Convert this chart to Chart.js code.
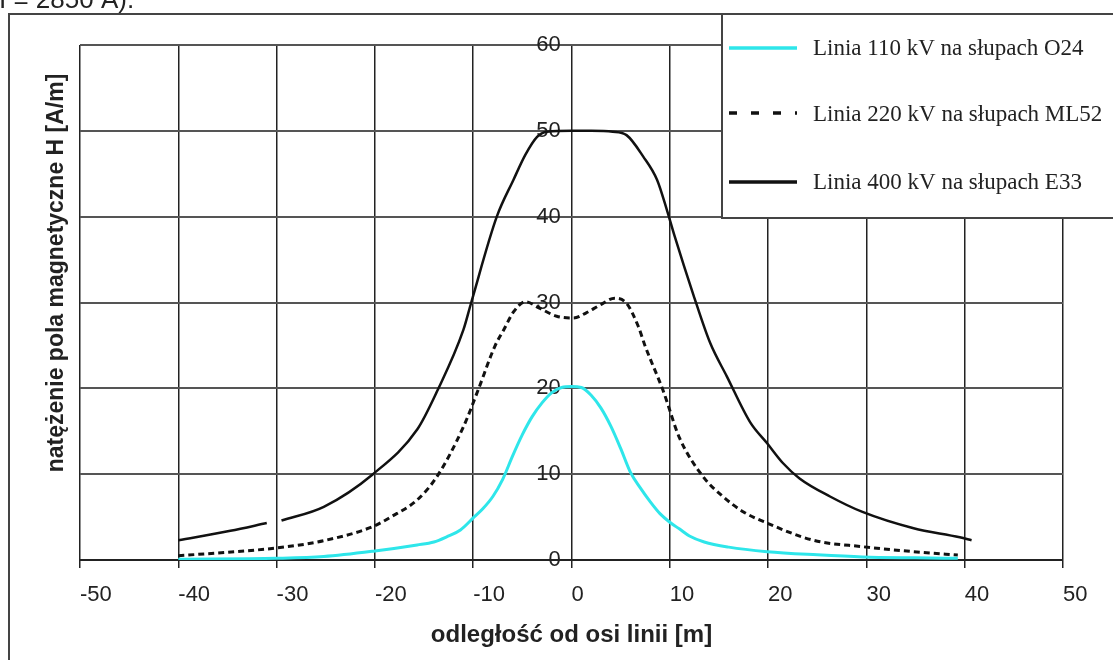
<!DOCTYPE html>
<html><head><meta charset="utf-8">
<script src="https://cdn.jsdelivr.net/npm/chart.js@4.4.0/dist/chart.umd.min.js"></script>
<style>html,body{margin:0;padding:0;background:#fff;overflow:hidden;} #wrap{width:1113px;height:660px;position:relative;}</style>
</head><body><div id="wrap"><canvas id="c" width="1113" height="660"></canvas></div>
<script>
const seriesLabels = ['Linia 110 kV na słupach O24', 'Linia 220 kV na słupach ML52', 'Linia 400 kV na słupach E33'];
const xTitle = 'odległość od osi linii [m]';
const yTitle = 'natężenie pola magnetyczne H [A/m]';
const captionFragment = 'I = 2850 A).';

// 110 kV (cyan)
const x110 = [-40, -30, -25.2, -20, -15.7, -14.0, -12.7, -11.3, -10, -9, -8, -7, -6, -5, -4, -3, -2, -1, 0, 1, 2, 3, 4, 5, 6, 7, 8, 9, 10, 11, 12, 13.5, 16, 19.9, 25, 29.6, 35, 39.3];
const h110 = [0.1, 0.2, 0.4, 1.05, 1.75, 2.1, 2.7, 3.5, 4.9, 6.0, 7.4, 9.4, 12.1, 14.6, 16.7, 18.3, 19.5, 20.1, 20.2, 20.1, 19.2, 17.7, 15.6, 13.0, 10.2, 8.4, 6.8, 5.4, 4.4, 3.6, 2.8, 2.1, 1.5, 0.97, 0.6, 0.35, 0.25, 0.2];

// 220 kV (dashed)
const x220 = [-40, -35, -30, -25.2, -20.2, -18.4, -15.7, -13.7, -11.0, -9.5, -7.8, -6.9, -5.9, -4.7, -3.2, -1.5, 0.2, 1.5, 2.9, 4.4, 5.6, 6.8, 7.5, 9.3, 11.0, 13.4, 15.4, 17.5, 19.9, 24.6, 29.6, 34.8, 39.3];
const h220 = [0.5, 0.9, 1.4, 2.25, 3.9, 5.0, 7.0, 9.7, 15.5, 19.8, 24.9, 26.8, 28.9, 30.1, 29.3, 28.4, 28.2, 28.8, 29.7, 30.5, 29.9, 27.2, 24.9, 19.8, 14.2, 9.7, 7.4, 5.6, 4.3, 2.3, 1.55, 0.97, 0.58];

// 400 kV (solid black), null = break in the line
const x400 = [-40, -34.7, -31.0, -30.3, -29.5, -25.2, -20.2, -15.7, -13.7, -11.0, -10.2, -7.6, -5.9, -4.7, -3.5, -2.5, 0, 2, 4.2, 5.6, 7.3, 8.7, 9.7, 10.5, 12.4, 14.1, 15.8, 18.2, 19.9, 21.5, 23.2, 26.3, 29.6, 34.8, 39.5, 40.7];
const h400 = [2.3, 3.4, 4.3, null, 4.6, 6.2, 10.0, 15.2, 19.6, 26.8, 30.0, 40.0, 44.3, 47.2, 49.3, 49.9, 50.0, 50.0, 49.9, 49.5, 47.0, 44.3, 40.8, 37.7, 30.9, 25.3, 21.4, 16.0, 13.6, 11.3, 9.5, 7.4, 5.6, 3.7, 2.65, 2.3];

const pts = (xs, ys) => xs.map((x, i) => ({x: x, y: ys[i]}));

const SANS = '"Liberation Sans", Arial, sans-serif';
const SERIF = '"Liberation Serif", "Times New Roman", serif';

const decor = {
  id: 'decor',
  beforeDraw(chart) {
    const ctx = chart.ctx;
    ctx.save();
    ctx.fillStyle = '#fff';
    ctx.fillRect(0, 0, chart.width, chart.height);
    ctx.restore();
  },
  afterDraw(chart) {
    const ctx = chart.ctx;
    ctx.save();
    // caption fragment (cut at top)
    ctx.fillStyle = '#222';
    ctx.font = '26px ' + SANS;
    ctx.textAlign = 'left';
    ctx.textBaseline = 'alphabetic';
    ctx.fillText(captionFragment, -1, 8);
    // outer frame
    ctx.strokeStyle = '#444';
    ctx.lineWidth = 2;
    ctx.beginPath();
    ctx.moveTo(9, 665); ctx.lineTo(9, 14); ctx.lineTo(1120, 14);
    ctx.stroke();
    // y title
    ctx.save();
    ctx.translate(63, 273);
    ctx.rotate(-Math.PI / 2);
    ctx.font = 'bold 23px ' + SANS;
    ctx.textAlign = 'center';
    ctx.textBaseline = 'alphabetic';
    ctx.fillStyle = '#222';
    ctx.fillText(yTitle, 0, 0);
    ctx.restore();
    // legend box
    ctx.fillStyle = '#fff';
    ctx.fillRect(722, 14, 400, 204);
    ctx.strokeStyle = '#444';
    ctx.lineWidth = 2;
    ctx.strokeRect(722, 14, 400, 204);
    const rowLine = [48, 113, 182];
    const rowText = [55, 121, 189];
    const legendDash = [[], [8, 14], []];
    chart.data.datasets.forEach((ds, i) => {
      ctx.save();
      ctx.strokeStyle = ds.borderColor;
      ctx.lineWidth = 3.5;
      ctx.setLineDash(legendDash[i]);
      ctx.beginPath();
      ctx.moveTo(729, rowLine[i]);
      ctx.lineTo(797, rowLine[i]);
      ctx.stroke();
      ctx.restore();
      ctx.fillStyle = '#222';
      ctx.font = '23px ' + SERIF;
      ctx.textAlign = 'left';
      ctx.textBaseline = 'alphabetic';
      ctx.fillText(ds.label, 813, rowText[i]);
    });
    ctx.restore();
  }
};

new Chart(document.getElementById('c'), {
  type: 'line',
  data: {
    datasets: [
      {label: seriesLabels[0], data: pts(x110, h110), borderColor: '#2ee6ea', borderWidth: 3, pointRadius: 0, cubicInterpolationMode: 'monotone', fill: false},
      {label: seriesLabels[1], data: pts(x220, h220), borderColor: '#111', borderWidth: 3, borderDash: [6, 4], pointRadius: 0, cubicInterpolationMode: 'monotone', fill: false},
      {label: seriesLabels[2], data: pts(x400, h400), borderColor: '#111', borderWidth: 2.5, pointRadius: 0, cubicInterpolationMode: 'monotone', spanGaps: false, fill: false}
    ]
  },
  options: {
    responsive: false,
    animation: false,
    events: [],
    layout: {padding: {left: 80, right: 50, top: 45, bottom: 0}},
    plugins: {legend: {display: false}, tooltip: {enabled: false}, title: {display: false}},
    scales: {
      x: {
        type: 'linear', position: 'bottom', min: -50, max: 50,
        ticks: {stepSize: 10, align: 'start', padding: 14, color: '#222', font: {family: SANS, size: 22}},
        grid: {color: '#222', lineWidth: 1.5, tickLength: 8, drawTicks: true},
        border: {display: true, color: '#222', width: 2},
        title: {display: true, text: xTitle, color: '#222', font: {family: SANS, size: 24, weight: 'bold'}, padding: {top: 0, bottom: 10}},
        afterFit: (s) => { s.height = 100; }
      },
      y: {
        type: 'linear', position: {x: -1.1}, min: 0, max: 60,
        ticks: {stepSize: 10, padding: 3, color: '#222', font: {family: SANS, size: 22}},
        grid: {color: '#555', lineWidth: 2, tickLength: 8},
        border: {display: false}
      }
    }
  },
  plugins: [decor]
});
</script>
</body></html>
